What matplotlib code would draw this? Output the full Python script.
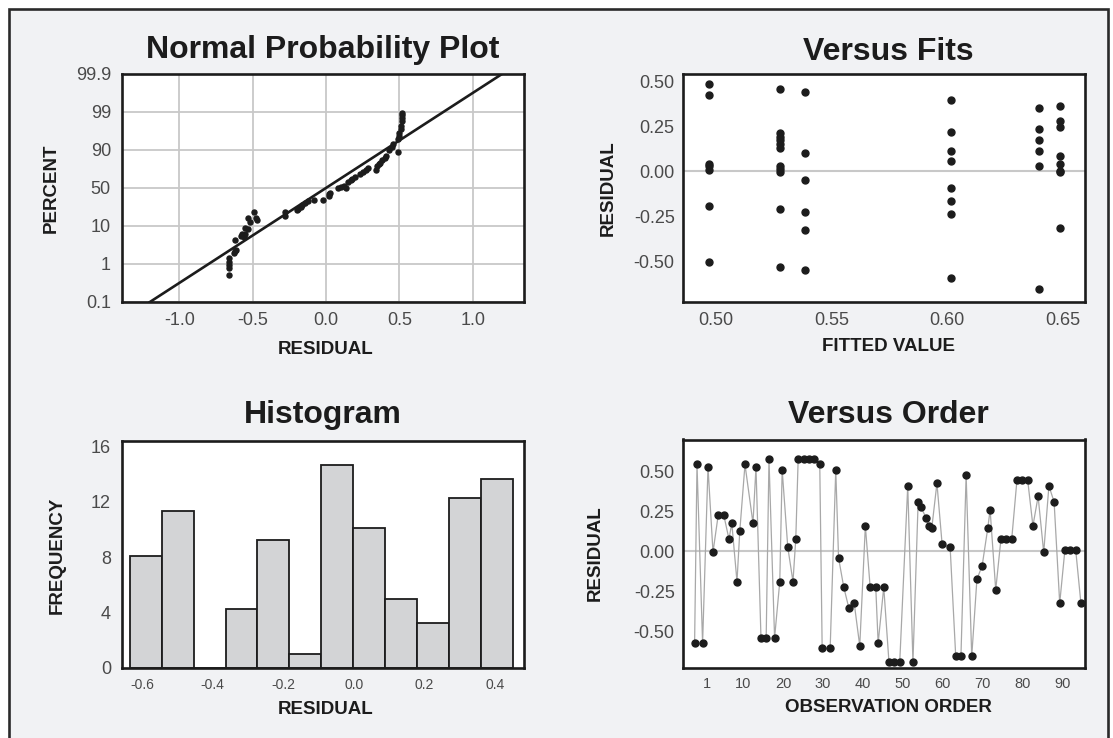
import matplotlib

matplotlib.use("Agg")
import matplotlib.pyplot as plt  # noqa: E402
from matplotlib.patches import Rectangle  # noqa: E402

W, H = 1113, 738
BG = "#f1f2f4"
INK = "#1c1c1c"
TICK = "#4a4a4a"
GRID = "#c8c8c8"
BAR = "#d3d4d6"
LINE = "#a8a8a8"

# --- normal probability plot: residual vs plotting position (0 = 0.1 %, 6 = 99.9 %)
npp_resid = [-0.66, -0.66, -0.66, -0.66, -0.66, -0.63, -0.62, -0.61, -0.62,
             -0.58, -0.57, -0.56, -0.55, -0.55, -0.53, -0.53, -0.52, -0.49,
             -0.48, -0.47, -0.28, -0.28, -0.20, -0.19, -0.17, -0.16, -0.14,
             -0.12, -0.08, -0.02, 0.02, 0.03, 0.02, 0.08, 0.10, 0.12, 0.14,
             0.15, 0.17, 0.18, 0.20, 0.23, 0.25, 0.27, 0.29, 0.34, 0.35, 0.36,
             0.37, 0.38, 0.40, 0.41, 0.43, 0.45, 0.46, 0.49, 0.49, 0.50, 0.50,
             0.51, 0.51, 0.52, 0.52, 0.52, 0.52]
npp_pos = [0.71, 0.89, 0.97, 1.06, 1.15, 1.28, 1.33, 1.37, 1.63,
           1.75, 1.80, 1.72, 1.78, 1.96, 1.93, 2.20, 2.10, 2.38,
           2.20, 2.15, 2.26, 2.37, 2.42, 2.46, 2.50, 2.56, 2.60,
           2.66, 2.68, 2.68, 2.80, 2.87, 2.84, 3.00, 3.02, 3.05, 3.00,
           3.17, 3.22, 3.25, 3.30, 3.37, 3.43, 3.48, 3.52, 3.47, 3.57, 3.62,
           3.67, 3.75, 3.80, 3.84, 4.00, 4.08, 4.16, 3.94, 4.28, 4.36, 4.44,
           4.54, 4.63, 4.77, 4.85, 4.92, 4.97]
npp_ref_x = [-1.20, 1.20]
npp_ref_pos = [0.0, 6.0]
pct_labels = ["0.1", "1", "10", "50", "90", "99", "99.9"]

# --- versus fits
fits = [0.497] * 7 + [0.528] * 11 + [0.5387] * 6 + [0.6015] * 8 + [0.6396] * 6 + [0.6487] * 8
fit_resid = [0.487, 0.426, 0.043, 0.028, 0.009, -0.194, -0.506,
             0.457, 0.213, 0.194, 0.176, 0.154, 0.133, 0.031, 0.012, -0.006, -0.209, -0.535,
             0.443, 0.102, -0.048, -0.224, -0.328, -0.548,
             0.398, 0.219, 0.115, 0.056, -0.093, -0.165, -0.239, -0.594,
             0.352, 0.235, 0.176, 0.115, 0.028, -0.654,
             0.367, 0.281, 0.250, 0.087, 0.043, 0.004, -0.005, -0.315]

# --- histogram
bin_centers = [-0.590, -0.499, -0.409, -0.318, -0.228, -0.137, -0.047, 0.044,
               0.134, 0.225, 0.315, 0.406]
bin_counts = [8.1, 11.3, 0.0, 4.24, 9.2, 1.01, 14.6, 10.1, 4.96, 3.25, 12.27, 13.64]
bin_width = 0.0905

# --- versus order
order_x = [-2.1, -1.5, -0.1, 1.25, 2.5, 3.8, 5.2, 6.5, 7.2, 8.5, 9.2, 10.5, 12.5,
           13.25, 14.5, 15.8, 16.5, 17.9, 19.2, 19.8, 21.2, 22.5, 23.2, 23.8, 25.2,
           26.5, 27.8, 29.2, 29.8, 31.8, 33.2, 33.9, 35.2, 36.5, 37.8, 39.2, 40.6,
           41.8, 43.2, 43.8, 45.2, 46.5, 47.8, 49.2, 51.2, 52.5, 53.8, 54.5, 55.8,
           56.5, 57.2, 58.5, 59.8, 61.8, 63.2, 64.5, 65.8, 67.2, 68.5, 69.8, 71.2,
           71.8, 73.2, 74.5, 75.8, 77.2, 78.5, 79.8, 81.2, 82.5, 83.8, 85.2, 86.5,
           87.8, 89.2, 90.5, 91.8, 93.2, 94.5]
order_resid = [-0.575, 0.542, -0.575, 0.525, -0.006, 0.225, 0.225, 0.075, 0.175,
               -0.19, 0.125, 0.542, 0.175, 0.525, -0.542, -0.542, 0.575, -0.542,
               -0.19, 0.508, 0.025, -0.19, 0.075, 0.575, 0.575, 0.575, 0.575, 0.542,
               -0.608, -0.608, 0.508, -0.042, -0.225, -0.358, -0.323, -0.592, 0.158,
               -0.225, -0.225, -0.575, -0.225, -0.692, -0.692, -0.692, 0.408, -0.692,
               0.308, 0.275, 0.208, 0.158, 0.142, 0.425, 0.042, 0.025, -0.658,
               -0.658, 0.475, -0.658, -0.175, -0.092, 0.142, 0.258, -0.242, 0.075,
               0.075, 0.075, 0.442, 0.442, 0.442, 0.158, 0.342, -0.008, 0.408,
               0.308, -0.325, 0.008, 0.008, 0.008, -0.325]

plt.rcParams.update({
    "font.family": ["Liberation Sans", "DejaVu Sans"],
    "axes.linewidth": 1.9,
    "axes.edgecolor": INK,
    "xtick.major.size": 0,
    "ytick.major.size": 0,
    "xtick.labelcolor": TICK,
    "ytick.labelcolor": TICK,
})


def box(x0, y0, x1, y1):
    # pixel box (top-left origin) -> figure fraction rect
    return [x0 / W, 1 - y1 / H, (x1 - x0) / W, (y1 - y0) / H]


def ftext(x, y, s, **kw):
    fig.text(x / W, 1 - y / H, s, **kw)


def hyph(v, fmt):
    return (fmt % v).replace("\u2212", "-")


fig = plt.figure(figsize=(W / 100, H / 100), dpi=100, facecolor="white")
fig.patches.append(Rectangle((9 / W, -0.02), (1108 - 9) / W, 1.02 - 8.5 / H,
                             transform=fig.transFigure, figure=fig,
                             facecolor=BG, edgecolor="#2a2a2a", lw=1.9, zorder=-10))

title_kw = dict(fontsize=23, fontweight="bold", color=INK, ha="center", va="baseline")
lab_kw = dict(fontsize=13.5, fontweight="bold", color=INK, ha="center", va="center")

# ---------------- normal probability plot
ax1 = fig.add_axes(box(122, 74, 524, 302))
ax1.set_facecolor("white")
ax1.set_xlim(-1.39, 1.35)
ax1.set_ylim(0, 6)
ax1.set_xticks([-1.0, -0.5, 0.0, 0.5, 1.0])
ax1.set_xticklabels([hyph(v, "%.1f") for v in [-1.0, -0.5, 0.0, 0.5, 1.0]])
ax1.set_yticks(range(len(pct_labels)))
ax1.set_yticklabels(pct_labels)
ax1.grid(True, color=GRID, lw=1.3)
ax1.set_axisbelow(True)
ax1.plot(npp_ref_x, npp_ref_pos, color=INK, lw=1.9, zorder=3)
ax1.plot(npp_resid, npp_pos, "o", color=INK, ms=3.6, zorder=4)
ax1.tick_params(axis="x", labelsize=13, pad=7)
ax1.tick_params(axis="y", labelsize=13, pad=8)
ftext(323, 58, "Normal Probability Plot", **title_kw)
ftext(326, 350, "RESIDUAL", **lab_kw)
ftext(51, 188, "PERCENT", rotation=90, **lab_kw)

# ---------------- versus fits
ax2 = fig.add_axes(box(683, 74, 1085, 302))
ax2.set_facecolor("white")
ax2.set_xlim(0.486, 0.6594)
ax2.set_ylim(-0.728, 0.543)
ax2.axhline(0, color=GRID, lw=1.5, zorder=1)
ax2.plot(fits, fit_resid, "o", color=INK, ms=5, zorder=3)
ax2.set_xticks([0.50, 0.55, 0.60, 0.65])
ax2.set_xticklabels(["0.50", "0.55", "0.60", "0.65"])
ax2.set_yticks([0.5, 0.25, 0.0, -0.25, -0.5])
ax2.set_yticklabels(["0.50", "0.25", "0.00", "-0.25", "-0.50"])
ax2.tick_params(axis="x", labelsize=13, pad=7)
ax2.tick_params(axis="y", labelsize=13, pad=6)
ftext(888, 60, "Versus Fits", **title_kw)
ftext(888, 347, "FITTED VALUE", **lab_kw)
ftext(608, 188, "RESIDUAL", rotation=90, **lab_kw)

# ---------------- histogram
ax3 = fig.add_axes(box(122, 440.5, 524, 668))
ax3.set_facecolor("white")
ax3.bar(bin_centers, bin_counts, width=bin_width, color=BAR, edgecolor=INK, lw=1.3, zorder=2)
ax3.set_xlim(-0.657, 0.483)
ax3.set_ylim(0, 16.4)
hist_ticks = [-0.6, -0.4, -0.2, 0.0, 0.2, 0.4]
ax3.set_xticks(hist_ticks)
ax3.set_xticklabels([hyph(v, "%.1f") for v in hist_ticks])
ax3.set_yticks([0, 4, 8, 12, 16])
ax3.tick_params(axis="x", labelsize=10, pad=7)
ax3.tick_params(axis="y", labelsize=13, pad=8)
ftext(323, 423, "Histogram", **title_kw)
ftext(326, 710, "RESIDUAL", **lab_kw)
ftext(57, 555, "FREQUENCY", rotation=90, **lab_kw)

# ---------------- versus order
ax4 = fig.add_axes(box(683, 439.5, 1084.5, 667.5))
ax4.set_facecolor("white")
ax4.axhline(0, color=GRID, lw=1.5, zorder=1)
ax4.plot(order_x, order_resid, "-", color=LINE, lw=0.9, zorder=2)
ax4.plot(order_x, order_resid, "o", color=INK, ms=5, zorder=3)
ax4.set_xlim(-5, 95.4)
ax4.set_ylim(-0.727, 0.698)
ax4.set_xticks([1, 10, 20, 30, 40, 50, 60, 70, 80, 90])
ax4.set_yticks([0.5, 0.25, 0.0, -0.25, -0.5])
ax4.set_yticklabels(["0.50", "0.25", "0.00", "-0.25", "-0.50"])
ax4.tick_params(axis="x", labelsize=10.5, pad=7)
ax4.tick_params(axis="y", labelsize=13, pad=6)
ftext(888, 423, "Versus Order", **title_kw)
ftext(888, 708, "OBSERVATION ORDER", **lab_kw)
ftext(595, 553, "RESIDUAL", rotation=90, **lab_kw)

fig.savefig("out.png", dpi=100, facecolor=fig.get_facecolor())
